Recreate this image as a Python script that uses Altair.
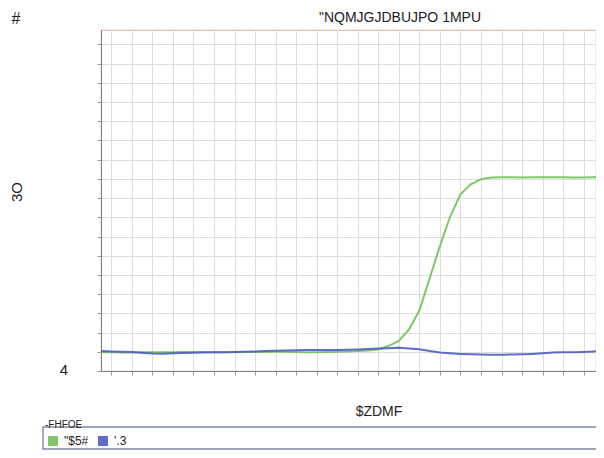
import altair as alt
import pandas as pd

# ---- data ----
cycles = list(range(0, 50))
series_names = ['"$5#', "'.3"]
green_vals = [0.97, 0.97, 0.96, 0.96, 0.97, 0.98, 0.98, 0.98, 0.99, 0.99,
              0.99, 0.98, 0.98, 0.98, 0.99, 0.99, 0.99, 1.00, 1.00, 0.99,
              0.98, 0.98, 0.99, 1.00, 1.02, 1.04, 1.07, 1.12, 1.30, 1.57,
              2.17, 3.15, 4.82, 6.50, 8.04, 9.20, 9.72, 9.98, 10.07, 10.08,
              10.08, 10.07, 10.08, 10.08, 10.09, 10.08, 10.07, 10.07, 10.08, 10.08]
blue_vals = [1.04, 1.02, 1.00, 0.99, 0.95, 0.91, 0.90, 0.92, 0.94, 0.95,
             0.96, 0.97, 0.98, 0.99, 1.00, 1.02, 1.04, 1.05, 1.07, 1.08,
             1.09, 1.09, 1.09, 1.09, 1.10, 1.12, 1.14, 1.17, 1.19, 1.21,
             1.17, 1.13, 1.04, 0.96, 0.92, 0.89, 0.87, 0.86, 0.84, 0.85,
             0.86, 0.87, 0.89, 0.92, 0.96, 0.97, 0.97, 0.99, 1.02, 1.04]

title_text = '"NQMJGJDBUJPO 1MPU'
panel_label = "#"
y_title = "3O"
corner_label = "4"
x_title = "$ZDMF"
legend_title = "-FHFOE"

x_grid = list(range(1, 50, 2))
y_grid = list(range(0, 18))

colors = ["#72c15a", "#4d5ec3"]

rows = []
for c, g, b in zip(cycles, green_vals, blue_vals):
    rows.append({"cycle": c, "rn": g, "series": series_names[0]})
    rows.append({"cycle": c, "rn": b, "series": series_names[1]})
df = pd.DataFrame(rows)

W, H = 495, 341

xs = alt.X("cycle:Q", scale=alt.Scale(domain=[0, 48.2], nice=False, zero=False),
           axis=alt.Axis(title=None, labels=False, values=x_grid, tickSize=4,
                         tickColor="#999999", domainColor="#7f7f7f",
                         gridColor="#dedede", grid=True))
ys = alt.Y("rn:Q", scale=alt.Scale(domain=[0, 17.75], nice=False, zero=False),
           axis=alt.Axis(title=None, labels=False, values=y_grid, tickSize=4,
                         tickColor="#999999", domainColor="#7f7f7f",
                         gridColor="#dedede", grid=True))

lines = alt.Chart(df).mark_line(strokeWidth=2, opacity=0.9, clip=True).encode(
    x=xs, y=ys,
    color=alt.Color("series:N", scale=alt.Scale(domain=series_names, range=colors),
                    legend=alt.Legend(title=None, orient="none", legendX=-54, legendY=405,
                                      direction="horizontal", symbolType="square",
                                      symbolSize=16, symbolStrokeWidth=6,
                                      labelFontSize=12, labelColor="#222222",
                                      labelFont="Liberation Sans", labelOffset=5,
                                      columnPadding=0, padding=0)),
    detail="series:N")

one = alt.Data(values=[{"a": 1}])

def txt(s, x, y, size, angle=0, align="center", baseline="middle", color="#222222"):
    return alt.Chart(one).mark_text(text=s, fontSize=size, angle=angle, align=align,
                                    baseline=baseline, color=color,
                                    font="Liberation Sans").encode(
        x=alt.value(x), y=alt.value(y))

frame = alt.Chart(one).mark_rect(fill="white", fillOpacity=0, stroke="#7f88a8",
                                 strokeWidth=1.4).encode(
    x=alt.value(-58), x2=alt.value(W + 4), y=alt.value(397), y2=alt.value(419))

chart = alt.layer(
    lines,
    frame,
    txt(title_text, 299, -12, 14),
    txt(panel_label, -85, -11, 16),
    txt(y_title, -84, 162, 15, angle=270),
    txt(corner_label, -37, 340, 15),
    txt(x_title, 278, 382, 14),
    txt(legend_title, -56, 395, 10, align="left"),
).properties(
    width=W, height=H,
    autosize=alt.AutoSizeParams(type="none"),
    padding={"left": 93, "top": 22, "right": 0, "bottom": 79},
).configure_view(stroke="#d6c3bb", strokeWidth=1.2)

chart.save("out.html", embed_options={"renderer": "svg", "actions": False})
